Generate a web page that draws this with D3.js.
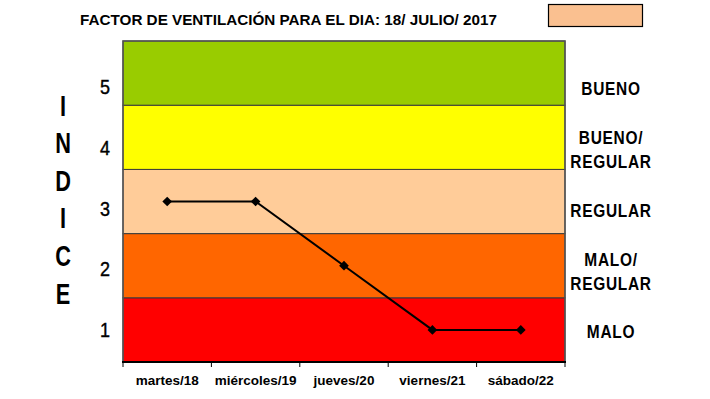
<!DOCTYPE html>
<html>
<head>
<meta charset="utf-8">
<script src="https://cdn.jsdelivr.net/npm/d3@7"></script>
<style>
  body { margin: 0; background: #fff; }
  svg { display: block; }
</style>
</head>
<body>
<div id="chart"></div>
<script>
// data
const days = ["martes/18", "miércoles/19", "jueves/20", "viernes/21", "sábado/22"];
const indice = [3, 3, 2, 1, 1];
const levels = [1, 2, 3, 4, 5];
const levelNames = [["MALO"], ["MALO/", "REGULAR"], ["REGULAR"], ["BUENO/", "REGULAR"], ["BUENO"]];
const bandColors = ["#ff0000", "#ff6600", "#ffcc99", "#ffff00", "#99cc00"];
const title = "FACTOR DE VENTILACIÓN PARA EL DIA: 18/ JULIO/ 2017";
const yTitle = "INDICE";

const W = 710, H = 399;
const plot = {left: 123, right: 565, top: 41, bottom: 362};
const sans = "'Liberation Sans', Arial, sans-serif";

const svg = d3.select("#chart").append("svg")
  .attr("width", W).attr("height", H);

const x = d3.scaleBand().domain(days).range([plot.left, plot.right]);
const y = d3.scaleLinear().domain([0.5, 5.5]).range([plot.bottom, plot.top]);
// the labels at the side are not centred on the bands in the original
const yLabel = d3.scaleLinear().domain([1, 5]).range([330, 87]);
const color = d3.scaleOrdinal().domain(levels).range(bandColors);

// bands
svg.append("g").selectAll("rect")
  .data(levels)
  .join("rect")
  .attr("x", plot.left)
  .attr("width", plot.right - plot.left)
  .attr("y", d => y(d + 0.5))
  .attr("height", d => y(d - 0.5) - y(d + 0.5))
  .attr("fill", d => color(d))
  .attr("stroke", "#3a3a3a")
  .attr("stroke-width", 1);

// frame
svg.append("rect")
  .attr("x", plot.left).attr("y", plot.top)
  .attr("width", plot.right - plot.left).attr("height", plot.bottom - plot.top)
  .attr("fill", "none").attr("stroke", "#555").attr("stroke-width", 1.5);

// x axis
svg.append("line")
  .attr("x1", plot.left - 1).attr("x2", plot.right + 1)
  .attr("y1", plot.bottom).attr("y2", plot.bottom)
  .attr("stroke", "#000").attr("stroke-width", 2);

const tickPos = days.map(d => x(d)).concat([x.range()[1]]);
svg.append("g").selectAll("line")
  .data(tickPos)
  .join("line")
  .attr("x1", d => d).attr("x2", d => d)
  .attr("y1", plot.bottom).attr("y2", plot.bottom + 5)
  .attr("stroke", "#000").attr("stroke-width", 1);

svg.append("g").selectAll("text")
  .data(days)
  .join("text")
  .attr("x", d => x(d) + x.bandwidth() / 2)
  .attr("y", 385)
  .attr("text-anchor", "middle")
  .attr("font-family", sans)
  .attr("font-weight", "bold")
  .attr("font-size", 13.5)
  .text(d => d);

// y tick labels (narrow look via horizontal squeeze)
svg.append("g").selectAll("text")
  .data(levels)
  .join("text")
  .attr("transform", d => `translate(105,${yLabel(d) + 7}) scale(0.9,1)`)
  .attr("text-anchor", "middle")
  .attr("font-family", sans)
  .attr("font-size", 20)
  .attr("stroke", "#000").attr("stroke-width", 0.4)
  .text(d => d);

// INDICE vertical
svg.append("g").selectAll("text")
  .data(yTitle.split(""))
  .join("text")
  .attr("transform", (d, i) => `translate(63,${105 + i * 37.6 + 10.5}) scale(0.75,1)`)
  .attr("text-anchor", "middle")
  .attr("font-family", sans)
  .attr("font-weight", "bold")
  .attr("font-size", 29)
  .text(d => d);

// level names on the right
const names = svg.append("g").selectAll("text")
  .data(levels)
  .join("text")
  .attr("transform", "translate(611,0) scale(0.86,1)")
  .attr("text-anchor", "middle")
  .attr("font-family", sans)
  .attr("font-weight", "bold")
  .attr("font-size", 18)
  .attr("letter-spacing", 0.8);
names.each(function(d, i) {
  const lines = levelNames[i];
  const t = d3.select(this);
  lines.forEach((s, j) => {
    t.append("tspan")
      .attr("x", 0)
      .attr("y", yLabel(d) + 8.5 + (j - (lines.length - 1) / 2) * 24)
      .text(s);
  });
});

// title
svg.append("text")
  .attr("x", 80).attr("y", 25)
  .attr("font-family", sans)
  .attr("font-weight", "bold")
  .attr("font-size", 15.5)
  .attr("textLength", 417)
  .attr("lengthAdjust", "spacingAndGlyphs")
  .text(title);

svg.append("rect")
  .attr("x", 548.5).attr("y", 4.5)
  .attr("width", 94).attr("height", 22)
  .attr("fill", "#fac090").attr("stroke", "#000").attr("stroke-width", 1.2);

// line + markers
const pts = days.map((d, i) => [x(d) + x.bandwidth() / 2, y(indice[i])]);
svg.append("path")
  .attr("d", d3.line()(pts))
  .attr("fill", "none").attr("stroke", "#000").attr("stroke-width", 2);

svg.append("g").selectAll("path")
  .data(pts)
  .join("path")
  .attr("transform", d => `translate(${d[0]},${d[1]})`)
  .attr("d", d3.symbol(d3.symbolDiamond2, 60))
  .attr("fill", "#000");
</script>
</body>
</html>
